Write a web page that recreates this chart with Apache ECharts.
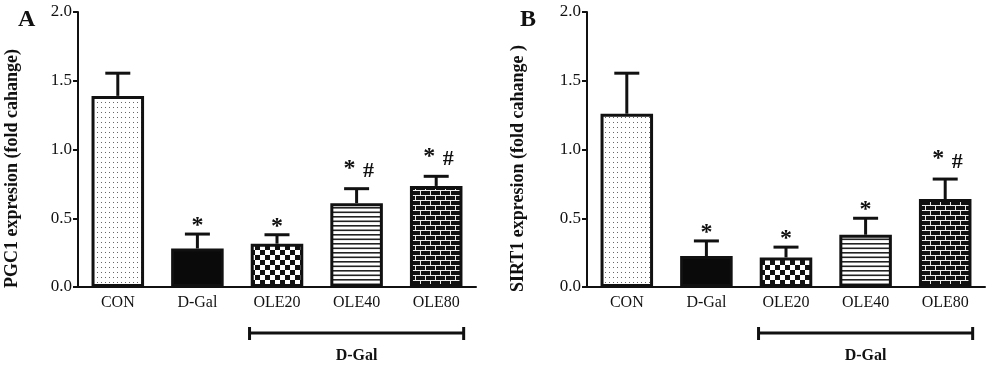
<!DOCTYPE html>
<html>
<head>
<meta charset="utf-8">
<script src="https://cdn.jsdelivr.net/npm/echarts@6/dist/echarts.min.js"></script>
<style>html,body{margin:0;padding:0;background:#fff;}#c{width:1000px;height:374px;}</style>
</head>
<body>
<div id="c"></div>
<script>
// ---- data ----
var categories = ['CON', 'D-Gal', 'OLE20', 'OLE40', 'OLE80'];
var yTicks = ['0.0', '0.5', '1.0', '1.5', '2.0'];
var pgc1Mean = [1.39, 0.28, 0.315, 0.61, 0.735];
var pgc1Err  = [0.165, 0.105, 0.065, 0.105, 0.07];
var pgc1Sig  = ['', '*', '*', '*#', '*#'];
var sirt1Mean = [1.26, 0.225, 0.215, 0.38, 0.64];
var sirt1Err  = [0.295, 0.11, 0.075, 0.12, 0.145];
var sirt1Sig  = ['', '*', '*', '*', '*#'];
var groupLabel = 'D-Gal';
var groupSpan = [2, 4];
var panelA = {letter: 'A', yName: 'PGC1 expresion (fold cahange)'};
var panelB = {letter: 'B', yName: 'SIRT1 expresion (fold cahange )'};

// ---- patterns ----
function mk(w, h, draw) {
  var c = document.createElement('canvas'); c.width = w; c.height = h;
  var g = c.getContext('2d'); draw(g, w, h);
  return {image: c, repeat: 'repeat'};
}
var patDots = mk(4, 5, function (g, w, h) { g.fillStyle = '#fff'; g.fillRect(0, 0, w, h); g.fillStyle = '#666'; g.fillRect(1, 2, 1, 1); });
var patSolid = '#0a0a0a';
var patChecker = mk(10, 10, function (g, w, h) { g.fillStyle = '#fff'; g.fillRect(0, 0, w, h); g.fillStyle = '#111'; g.fillRect(0, 0, 5, 5); g.fillRect(5, 5, 5, 5); });
var patStripes = mk(4, 9, function (g, w, h) { g.fillStyle = '#fff'; g.fillRect(0, 0, w, h); g.fillStyle = '#222'; g.fillRect(0, 0, w, 1.6); g.fillRect(0, 4.5, w, 1.6); });
var patBrick = mk(10, 10, function (g, w, h) { g.fillStyle = '#111'; g.fillRect(0, 0, w, h); g.fillStyle = '#eee'; g.fillRect(0, 0, w, 1); g.fillRect(0, 5, w, 1); g.fillRect(0, 0, 1, 5); g.fillRect(5, 5, 1, 5); });
var patterns = [patDots, patSolid, patChecker, patStripes, patBrick];

var serif = '"Liberation Serif", "Times New Roman", serif';

function barData(means) {
  return means.map(function (v, i) { return {value: v, itemStyle: {color: patterns[i]}}; });
}

function errRender(means, errs, sigs) {
  return function (params, api) {
    var i = params.dataIndex;
    var base = api.coord([i, means[i]]);
    var top = api.coord([i, means[i] + errs[i]]);
    var half = 11;
    var kids = [
      {type: 'line', shape: {x1: base[0], y1: base[1], x2: top[0], y2: top[1]}, style: {stroke: '#111', lineWidth: 3}},
      {type: 'line', shape: {x1: top[0] - half, y1: top[1], x2: top[0] + half, y2: top[1]}, style: {stroke: '#111', lineWidth: 3, lineCap: 'square'}}
    ];
    var s = sigs[i];
    var f = 'bold 24px ' + serif;
    if (s === '*') {
      kids.push({type: 'text', style: {text: '*', x: top[0], y: top[1] + 4, font: f, align: 'center', verticalAlign: 'bottom', fill: '#111'}});
    } else if (s === '*#') {
      kids.push({type: 'text', style: {text: '*', x: top[0] - 7, y: top[1] - 8, font: f, align: 'center', verticalAlign: 'bottom', fill: '#111'}});
      kids.push({type: 'text', style: {text: '#', x: top[0] + 12, y: top[1] - 6, font: 'bold 22px ' + serif, align: 'center', verticalAlign: 'bottom', fill: '#111'}});
    }
    return {type: 'group', children: kids};
  };
}

function bracketRender(params, api) {
  var a = api.coord([groupSpan[0], 0]);
  var b = api.coord([groupSpan[1], 0]);
  var bw = api.size([1, 0])[0];
  var hb = bw * 0.345;
  var x1 = a[0] - hb, x2 = b[0] + hb, y = a[1] + 46;
  return {type: 'group', children: [
    {type: 'line', shape: {x1: x1, y1: y, x2: x2, y2: y}, style: {stroke: '#111', lineWidth: 3}},
    {type: 'line', shape: {x1: x1, y1: y - 6, x2: x1, y2: y + 7}, style: {stroke: '#111', lineWidth: 3}},
    {type: 'line', shape: {x1: x2, y1: y - 6, x2: x2, y2: y + 7}, style: {stroke: '#111', lineWidth: 3}},
    {type: 'text', style: {text: groupLabel, x: (x1 + x2) / 2, y: y + 23, font: 'bold 16px ' + serif, align: 'center', verticalAlign: 'middle', fill: '#111'}}
  ]};
}

function xAxis(idx) {
  return {
    type: 'category', gridIndex: idx, data: categories,
    axisLine: {lineStyle: {color: '#111', width: 2}},
    axisTick: {show: false},
    axisLabel: {color: '#111', fontFamily: serif, fontSize: 16, margin: 8}
  };
}
function yAxis(idx, name, gap) {
  return {
    type: 'value', gridIndex: idx, min: 0, max: 2, interval: 0.5,
    name: name, nameLocation: 'middle', nameGap: gap,
    nameTextStyle: {color: '#111', fontFamily: serif, fontSize: 18, fontWeight: 'bold', padding: [0, 38, 0, 0]},
    splitLine: {show: false},
    axisLine: {show: true, lineStyle: {color: '#111', width: 2}},
    axisTick: {show: true, length: 5, lineStyle: {color: '#111', width: 2}},
    axisLabel: {color: '#111', fontFamily: serif, fontSize: 17, margin: 6,
      formatter: function (v) { return yTicks[Math.round(v / 0.5)]; }}
  };
}

function panelSeries(idx, means, errs, sigs) {
  return [
    {type: 'bar', xAxisIndex: idx, yAxisIndex: idx, data: barData(means), barWidth: '66%',
      itemStyle: {borderColor: '#111', borderWidth: 3}, z: 2, animation: false},
    {type: 'custom', xAxisIndex: idx, yAxisIndex: idx, data: means.map(function (v, i) { return [i, v]; }),
      renderItem: errRender(means, errs, sigs), z: 3, clip: false, animation: false},
    {type: 'custom', xAxisIndex: idx, yAxisIndex: idx, data: [[0, 0]],
      renderItem: bracketRender, z: 3, clip: false, animation: false}
  ];
}

var chart = echarts.init(document.getElementById('c'), null, {renderer: 'canvas'});
chart.setOption({
  animation: false,
  backgroundColor: '#fff',
  title: [
    {text: panelA.letter, left: 13, top: 3, textStyle: {fontFamily: serif, fontSize: 24, fontWeight: 'bold', color: '#111'}},
    {text: panelB.letter, left: 515, top: 3, textStyle: {fontFamily: serif, fontSize: 24, fontWeight: 'bold', color: '#111'}}
  ],
  grid: [
    {left: 78, top: 12, width: 398, height: 275},
    {left: 587, top: 12, width: 398, height: 275}
  ],
  xAxis: [xAxis(0), xAxis(1)],
  yAxis: [yAxis(0, panelA.yName, 57), yAxis(1, panelB.yName, 60)],
  series: panelSeries(0, pgc1Mean, pgc1Err, pgc1Sig).concat(panelSeries(1, sirt1Mean, sirt1Err, sirt1Sig))
});
</script>
</body>
</html>
